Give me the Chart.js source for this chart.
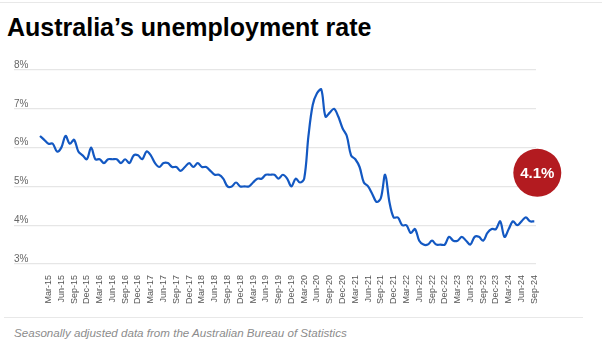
<!DOCTYPE html>
<html>
<head>
<meta charset="utf-8">
<script src="https://cdn.jsdelivr.net/npm/chart.js@4.4.1/dist/chart.umd.min.js"></script>
<style>
  body { margin: 0; width: 602px; height: 344px; background: #fff; position: relative; overflow: hidden;
         font-family: "Liberation Sans", Arial, sans-serif; }
  .topline { position: absolute; left: 0; top: 2px; width: 602px; height: 1px; background: #e8e8e8; }
  h1 { position: absolute; left: 7px; top: 10px; margin: 0; font-size: 25px; line-height: 34px; font-weight: bold; color: #000; }
  #wrap { position: absolute; left: 0; top: 0; width: 602px; height: 315px; }
  .rule { position: absolute; left: 4px; top: 317px; width: 579px; height: 1px; background: #e8e8e8; }
  .note { position: absolute; left: 14px; top: 326px; font-size: 11.6px; line-height: 13px; font-style: italic; color: #8c8c8c; }
</style>
</head>
<body>
<div class="topline"></div>
<h1>Australia’s unemployment rate</h1>
<div id="wrap"><canvas id="chart"></canvas></div>
<div class="rule"></div>
<div class="note">Seasonally adjusted data from the Australian Bureau of Statistics</div>
<script>
const monthNames = ['Jan', 'Feb', 'Mar', 'Apr', 'May', 'Jun', 'Jul', 'Aug', 'Sep', 'Oct', 'Nov', 'Dec'];
const years = ['15', '16', '17', '18', '19', '20', '21', '22', '23', '24'];
const tickMonths = ['Mar', 'Jun', 'Sep', 'Dec'];

// monthly, Jan-15 .. Sep-24
const monthLabels = years.flatMap(yy => monthNames.map(m => `${m}-${yy}`)).slice(0, 117);

// unemployment rate (%), seasonally adjusted
const rate = [
  6.3, 6.2, 6.1, 6.1, 5.9, 6.0, 6.3, 6.1, 6.2, 5.9, 5.8, 5.7,
  6.0, 5.7, 5.7, 5.6, 5.7, 5.7, 5.7, 5.6, 5.7, 5.6, 5.8, 5.8,
  5.7, 5.9, 5.8, 5.6, 5.5, 5.6, 5.6, 5.5, 5.5, 5.4, 5.5, 5.6,
  5.5, 5.6, 5.5, 5.5, 5.4, 5.3, 5.3, 5.2, 5.0, 5.0, 5.1, 5.0,
  5.0, 5.0, 5.1, 5.2, 5.2, 5.3, 5.3, 5.3, 5.2, 5.3, 5.2, 5.0,
  5.2, 5.1, 5.2, 6.3, 7.1, 7.4, 7.5, 6.8, 6.9, 7.0, 6.8, 6.5,
  6.3, 5.8, 5.7, 5.5, 5.1, 5.0, 4.8, 4.6, 4.7, 5.3, 4.6, 4.2,
  4.2, 4.0, 4.0, 3.8, 3.9, 3.6, 3.5, 3.5, 3.6, 3.5, 3.5, 3.5,
  3.7, 3.6, 3.6, 3.7, 3.6, 3.5, 3.7, 3.7, 3.6, 3.8, 3.9, 3.9,
  4.1, 3.7, 3.9, 4.1, 4.0, 4.1, 4.2, 4.1, 4.1,
];

const yTicks = [3, 4, 5, 6, 7, 8];

// quarterly ticks: Mar, Jun, Sep, Dec
const xTickIndexes = monthLabels
  .map((label, i) => (tickMonths.includes(label.slice(0, 3)) ? i : -1))
  .filter(i => i >= 0);

Chart.defaults.font.family = "'Liberation Sans', Arial, sans-serif";

// red badge with the latest reading
const badge = {
  id: 'badge',
  afterDatasetsDraw(chart) {
    const { ctx, scales: { x, y } } = chart;
    const last = rate.length - 1;
    const cx = x.getPixelForValue(last) + 3;
    const cy = y.getPixelForValue(rate[last] + 1.25);
    ctx.save();
    ctx.beginPath();
    ctx.arc(cx, cy, 24, 0, Math.PI * 2);
    ctx.fillStyle = '#b31b20';
    ctx.fill();
    ctx.fillStyle = '#fff';
    ctx.font = "bold 15px 'Liberation Sans', Arial, sans-serif";
    ctx.textAlign = 'center';
    ctx.textBaseline = 'middle';
    ctx.fillText(`${rate[last]}%`, cx, cy + 1);
    ctx.restore();
  },
};

new Chart(document.getElementById('chart'), {
  type: 'line',
  data: {
    datasets: [{
      data: rate.map((v, i) => ({ x: i, y: v })),
      borderColor: '#1358c2',
      borderWidth: 2.2,
      tension: 0.35,
      pointRadius: 0,
      fill: false,
    }],
  },
  options: {
    responsive: true,
    maintainAspectRatio: false,
    animation: false,
    layout: { padding: { left: 14, right: 66, top: 70, bottom: 0 } },
    plugins: {
      legend: { display: false },
      tooltip: { enabled: false },
    },
    scales: {
      x: {
        type: 'linear',
        min: -6.1,
        max: 116.4,
        grid: { display: false },
        border: { display: false },
        afterBuildTicks: scale => { scale.ticks = xTickIndexes.map(v => ({ value: v })); },
        afterFit: scale => { scale.height = 51; },
        ticks: {
          autoSkip: false,
          minRotation: 90,
          maxRotation: 90,
          padding: 3,
          color: '#555',
          font: { size: 9 },
          callback: value => monthLabels[value],
        },
      },
      y: {
        min: yTicks[0],
        max: yTicks[yTicks.length - 1],
        afterBuildTicks: scale => { scale.ticks = yTicks.map(v => ({ value: v })); },
        afterFit: scale => { scale.width = 0; },
        grid: { color: '#e6e6e6', lineWidth: 1.2, drawTicks: false },
        border: { display: false },
        ticks: {
          mirror: true,
          padding: 0,
          labelOffset: -5,
          color: '#666',
          font: { size: 10 },
          callback: value => `${value}%`,
        },
      },
    },
  },
  plugins: [badge],
});
</script>
</body>
</html>
